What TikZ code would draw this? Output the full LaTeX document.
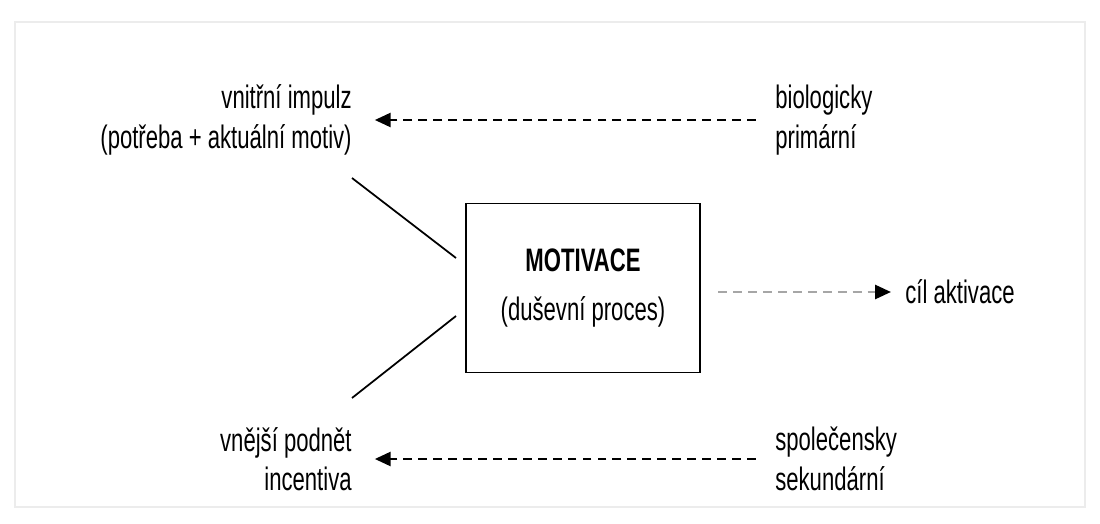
\documentclass[tikz,border=0pt]{standalone}
\usepackage{fontspec}
\newfontfamily\narrowsans{Liberation Sans}[FakeStretch=0.68]
\usetikzlibrary{positioning,arrows.meta}

\begin{document}
\begin{tikzpicture}[x=0.02cm,y=-0.02cm,
    font=\narrowsans\fontsize{18.5}{22.5}\selectfont,
    lbl/.style={align=left,anchor=west,inner sep=0pt},
    rbl/.style={align=right,anchor=east,inner sep=0pt},
    dasharrow/.style={dashed,dash pattern=on 5pt off 3.5pt,line width=1.3pt,-{Triangle[length=9pt,width=8pt]}},
    greyarrow/.style={dasharrow,gray!70,arrows={-{Triangle[length=9pt,width=8pt,fill=black,color=black]}}}]
  % page and faint frame
  \useasboundingbox (0,0) rectangle (1100,524);
  \draw[gray!15,line width=1pt] (15,22) rectangle (1085,507);
  % central box
  \node[draw,line width=0.9pt,minimum width=4.68cm,minimum height=3.38cm,align=center] (box) at (583,288)
    {{\bfseries MOTIVACE}\\[5pt](duševní proces)};
  % left labels
  \node[rbl] (inner) at (352,120) {vnitřní impulz\\(potřeba + aktuální motiv)};
  \node[rbl] (outer) at (352,459) {vnější podnět\\incentiva};
  % right labels
  \node[lbl] (bio) at (775,120) {biologicky\\primární};
  \node[lbl] (soc) at (775,459) {společensky\\sekundární};
  \node[lbl] (goal) at (905,292) {cíl aktivace};
  % ends of the slanted lines
  \coordinate (inA) at (352,178);
  \coordinate (inB) at (456,258);
  \coordinate (outA) at (352,398);
  \coordinate (outB) at (456,316);
  \draw[line width=1pt] (inA) -- (inB);
  \draw[line width=1pt] (outA) -- (outB);
  % dashed arrows
  \draw[dasharrow,shorten <=11pt,shorten >=13pt] (bio.west) -- (inner.east);
  \draw[dasharrow,shorten <=11pt,shorten >=13pt] (soc.west) -- (outer.east);
  \draw[greyarrow,shorten <=10pt,shorten >=8pt] (box.east |- goal.west) -- (goal.west);
\end{tikzpicture}
\end{document}
